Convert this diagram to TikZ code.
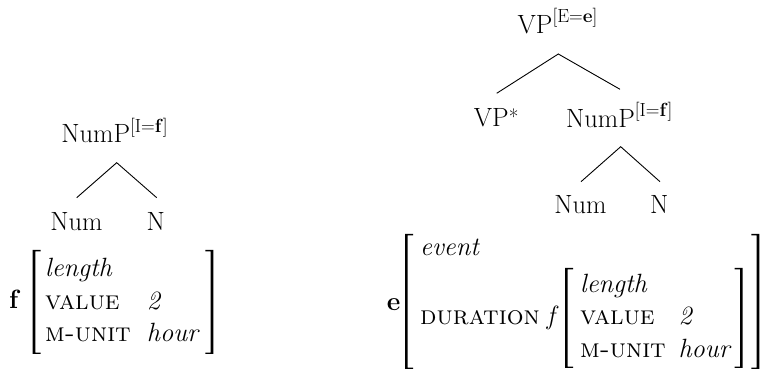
\documentclass[tikz,border=0pt]{standalone}
\usetikzlibrary{calc}
\tikzset{
  lab/.style={anchor=base,inner sep=0pt,font=\fontsize{26.4}{32}\selectfont},
  txt/.style={anchor=base west,inner sep=0pt,font=\fontsize{26.4}{32}\selectfont},
  branch/.style={line width=0.9pt},
  brk/.style={fill=black,draw=none}
}
\newcommand\supfeat[1]{\raisebox{10.5pt}{\fontsize{19}{20}\selectfont #1}}
\newcommand\bracketL[3]{% outer x, top, bottom
  \path[brk] (#1,#2) -- (#1+8,#2) -- (#1+8,#2+1.3) -- (#1+2.7,#2+1.3) -- (#1+2.7,#3-1.3) -- (#1+8,#3-1.3) -- (#1+8,#3) -- (#1,#3) -- cycle;}
\newcommand\bracketR[3]{% outer x, top, bottom
  \path[brk] (#1,#2) -- (#1-8,#2) -- (#1-8,#2+1.3) -- (#1-2.7,#2+1.3) -- (#1-2.7,#3-1.3) -- (#1-8,#3-1.3) -- (#1-8,#3) -- (#1,#3) -- cycle;}
\begin{document}
\begin{tikzpicture}[x=1pt,y=-1pt]
\useasboundingbox (0,0) rectangle (761,371);
% ---------- left tree ----------
\node[lab] (numpA) at (114.5,142.7) {NumP\supfeat{[I=\textbf{f}]}};
\node[lab] (numA) at (76.4,231) {Num};
\node[lab] (nA) at (155.8,231) {N};
\coordinate (apA) at (116.7,162.7);
\coordinate (numAtop) at (76.7,197.7);
\coordinate (nAtop) at (156.7,197.7);
\draw[branch] (numAtop) -- (apA) -- (nAtop);
% ---------- left AVM ----------
\node[txt] (fA) at (9,309) {\textbf{f}};
\bracketL{32.7}{250}{354}
\bracketR{213.3}{250}{354}
\node[txt] (lenA) at (45,276.7) {\textit{length}};
\node[txt] (valA) at (45,309.3) {\textsc{value}};
\node[txt] (munA) at (45,341.7) {\textsc{m-unit}};
\node[txt] (twoA) at (146.7,309.3) {\textit{2}};
\node[txt] (hrA) at (146.7,341.7) {\textit{hour}};
% ---------- right tree ----------
\node[lab] (vp) at (557.5,33.3) {VP\supfeat{[E=\textbf{e}]}};
\node[lab] (vpstar) at (496.2,126.7) {VP\raisebox{2pt}{\fontsize{21}{22}\selectfont *}};
\node[lab] (numpB) at (619.2,127.3) {NumP\supfeat{[I=\textbf{f}]}};
\node[lab] (numB) at (580.5,213.3) {Num};
\node[lab] (nB) at (659.3,213.3) {N};
\coordinate (apVP) at (558.3,54);
\coordinate (vpstarTop) at (496.7,93.3);
\coordinate (numpBTop) at (620,89.3);
\draw[branch] (vpstarTop) -- (apVP) -- (numpBTop);
\coordinate (apB) at (620.7,146.7);
\coordinate (numBtop) at (581,181.7);
\coordinate (nBtop) at (660,181.7);
\draw[branch] (numBtop) -- (apB) -- (nBtop);
% ---------- right AVM ----------
\node[txt] (eB) at (386.7,311) {\textbf{e}};
\bracketL{405}{234}{369}
\bracketR{759.3}{234}{369}
\node[txt] (evB) at (420,256) {\textit{event}};
\node[txt] (durB) at (420,325) {\textsc{duration}};
\node[txt] (fB) at (546.7,325) {\textit{f}};
\bracketL{565}{268}{368}
\bracketR{742.7}{268}{368}
\node[txt] (lenB) at (580,292.7) {\textit{length}};
\node[txt] (valB) at (580,325) {\textsc{value}};
\node[txt] (munB) at (580,357.3) {\textsc{m-unit}};
\node[txt] (twoB) at (678.3,325) {\textit{2}};
\node[txt] (hrB) at (678.3,357.3) {\textit{hour}};
\end{tikzpicture}
\end{document}
